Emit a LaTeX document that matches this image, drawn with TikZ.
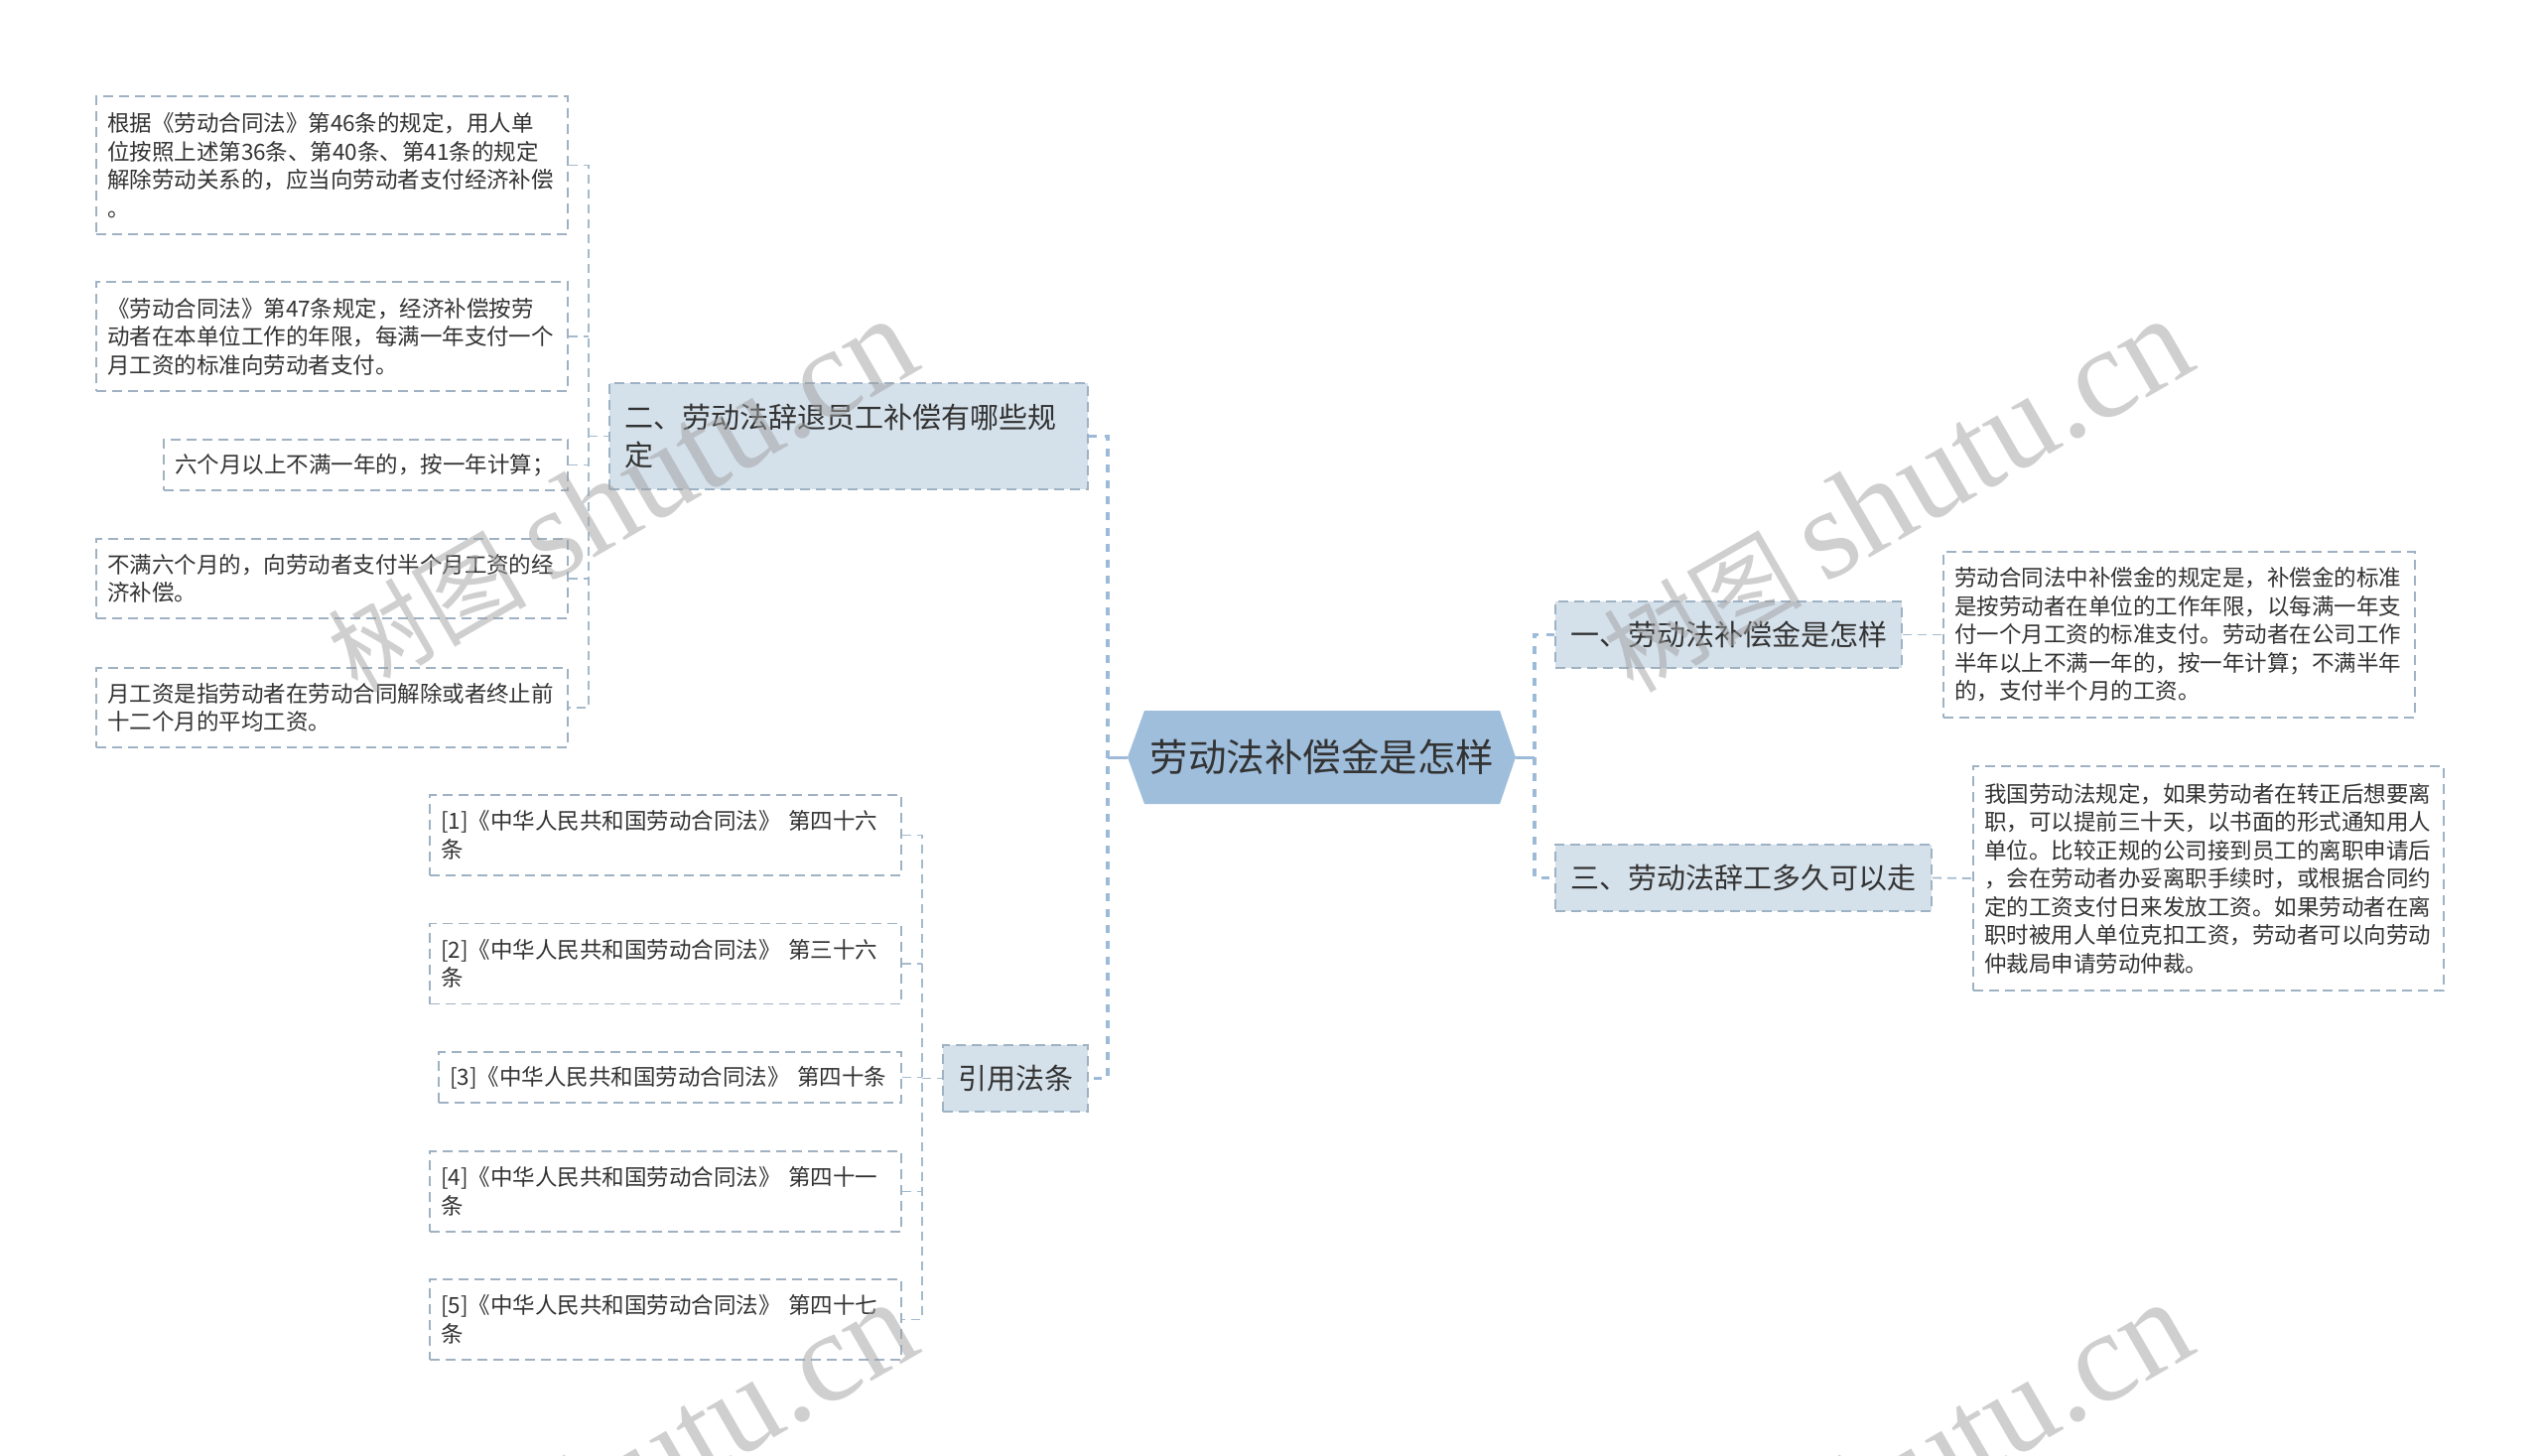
\documentclass[tikz,border=0pt]{standalone}
\usepackage{fontspec}
\setmainfont{Noto Sans CJK SC}
\newfontfamily\wmserif{Liberation Serif}
\newfontfamily\wmcjk{Noto Sans CJK SC}
\definecolor{txt}{HTML}{333333}
\definecolor{bordercol}{HTML}{9FB2C3}
\definecolor{conncol}{HTML}{A5BBCD}
\definecolor{maincol}{HTML}{9DBAD8}
\definecolor{branchfill}{HTML}{D4E0EA}
\definecolor{rootfill}{HTML}{9FBEDB}
\definecolor{wmcol}{HTML}{A0A0A0}
\newcommand\leaffont{\fontsize{22.5}{28.5}\selectfont}
\newcommand\branchfont{\fontsize{29}{38}\selectfont}
\newcommand\rootfont{\fontsize{38.5}{46}\selectfont}
\tikzset{
  leafbox/.style={draw=bordercol, line width=1.6pt, dash pattern=on 10pt off 6pt,
    fill=white, inner xsep=11pt, inner ysep=0pt, align=left, font=\leaffont, text=txt},
  branchbox/.style={leafbox, fill=branchfill, font=\branchfont, inner xsep=15pt},
  conn/.style={draw=conncol, line width=1.8pt, dash pattern=on 9pt off 6pt},
  mainconn/.style={draw=maincol, line width=3.5pt, dash pattern=on 8pt off 8pt},
  rootline/.style={draw=maincol, line width=3pt},
  wmark/.style={text=wmcol, opacity=0.5, rotate=30, anchor=base, inner sep=0pt}
}
\begin{document}
\begin{tikzpicture}[x=1pt,y=-1pt]
\useasboundingbox (0,0) rectangle (2560,1467);
\fill[white] (0,0) rectangle (2560,1467);

% root
\fill[rootfill] (1136,763) -- (1153,716) -- (1511,716) -- (1527,763) -- (1511,810) -- (1153,810) -- cycle;
\node[font=\rootfont, text=txt, inner sep=0pt] (root) at (1332,763) {劳动法补偿金是怎样};
\coordinate (rootL) at (1136,763);
\coordinate (rootR) at (1527,763);
\coordinate (jL) at (1116,763);
\coordinate (jR) at (1546,763);

% left branch 二
\node[branchbox, text width=452pt, minimum height=107pt] (b2) at (855,439.5)
  {二、劳动法辞退员工补偿有哪些规\\定};
\node[leafbox, text width=453pt, minimum height=139pt] (l1) at (334.5,166.5)
  {根据《劳动合同法》第46条的规定，用人单\\位按照上述第36条、第40条、第41条的规定\\解除劳动关系的，应当向劳动者支付经济补偿\\。};
\node[leafbox, text width=453pt, minimum height=110pt] (l2) at (334.5,339)
  {《劳动合同法》第47条规定，经济补偿按劳\\动者在本单位工作的年限，每满一年支付一个\\月工资的标准向劳动者支付。};
\node[leafbox, text width=385pt, minimum height=51pt] (l3) at (368.5,468.5)
  {六个月以上不满一年的，按一年计算；};
\node[leafbox, text width=453pt, minimum height=80pt] (l4) at (334.5,583)
  {不满六个月的，向劳动者支付半个月工资的经\\济补偿。};
\node[leafbox, text width=453pt, minimum height=80pt] (l5) at (334.5,713)
  {月工资是指劳动者在劳动合同解除或者终止前\\十二个月的平均工资。};
\coordinate (j2) at (593,439.5);

% citations
\node[branchbox, text width=116pt, minimum height=67pt] (cite) at (1023,1086.5) {引用法条};
\node[leafbox, text width=453pt, minimum height=81pt] (r1) at (670.5,841.5)
  {[1]《中华人民共和国劳动合同法》 第四十六\\条};
\node[leafbox, text width=453pt, minimum height=81pt] (r2) at (670.5,971)
  {[2]《中华人民共和国劳动合同法》 第三十六\\条};
\node[leafbox, text width=444pt, minimum height=51pt] (r3) at (675,1085.5)
  {[3]《中华人民共和国劳动合同法》 第四十条};
\node[leafbox, text width=453pt, minimum height=81pt] (r4) at (670.5,1200.5)
  {[4]《中华人民共和国劳动合同法》 第四十一\\条};
\node[leafbox, text width=453pt, minimum height=81pt] (r5) at (670.5,1329.5)
  {[5]《中华人民共和国劳动合同法》 第四十七\\条};
\coordinate (j3) at (929,1086.5);

% right branches
\node[branchbox, text width=319pt, minimum height=67pt] (b1) at (1741.5,639.5) {一、劳动法补偿金是怎样};
\node[leafbox, text width=453pt, minimum height=167pt] (d1) at (2195.5,639.5)
  {劳动合同法中补偿金的规定是，补偿金的标准\\是按劳动者在单位的工作年限，以每满一年支\\付一个月工资的标准支付。劳动者在公司工作\\半年以上不满一年的，按一年计算；不满半年\\的，支付半个月的工资。};
\node[branchbox, text width=349pt, minimum height=67pt] (b3) at (1756.5,884.5) {三、劳动法辞工多久可以走};
\node[leafbox, text width=452pt, minimum height=226pt] (d3) at (2225,885)
  {我国劳动法规定，如果劳动者在转正后想要离\\职，可以提前三十天，以书面的形式通知用人\\单位。比较正规的公司接到员工的离职申请后\\，会在劳动者办妥离职手续时，或根据合同约\\定的工资支付日来发放工资。如果劳动者在离\\职时被用人单位克扣工资，劳动者可以向劳动\\仲裁局申请劳动仲裁。};

% connectors
\draw[rootline] (rootL) -- (jL);
\draw[rootline] (rootR) -- (jR);
\draw[mainconn] (b2.east) -| (jL) |- (cite.east);
\draw[mainconn] (b1.west) -| (jR) |- (b3.west);

\draw[conn] (l1.east) -| (j2) |- (l5.east);
\draw[conn] (l2.east) -- (j2 |- l2.east);
\draw[conn] (l3.east) -- (j2 |- l3.east);
\draw[conn] (l4.east) -- (j2 |- l4.east);
\draw[conn] (j2) -- (b2.west);

\draw[conn] (r1.east) -| (j3) |- (r5.east);
\draw[conn] (r2.east) -- (j3 |- r2.east);
\draw[conn] (r3.east) -- (j3 |- r3.east);
\draw[conn] (r4.east) -- (j3 |- r4.east);
\draw[conn] (j3) -- (cite.west);

\draw[conn] (b1.east) -- (d1.west);
\draw[conn] (b3.east) -- (d3.west);

% watermarks
\node[wmark] (wm1) at (646,535) {\wmcjk\fontsize{100}{110}\selectfont 树图 \wmserif\fontsize{130}{140}\selectfont shutu.cn};
\node[wmark] (wm2) at (1931,535) {\wmcjk\fontsize{100}{110}\selectfont 树图 \wmserif\fontsize{130}{140}\selectfont shutu.cn};
\node[wmark] (wm3) at (646,1526) {\wmcjk\fontsize{100}{110}\selectfont 树图 \wmserif\fontsize{130}{140}\selectfont shutu.cn};
\node[wmark] (wm4) at (1931,1526) {\wmcjk\fontsize{100}{110}\selectfont 树图 \wmserif\fontsize{130}{140}\selectfont shutu.cn};
\end{tikzpicture}
\end{document}
